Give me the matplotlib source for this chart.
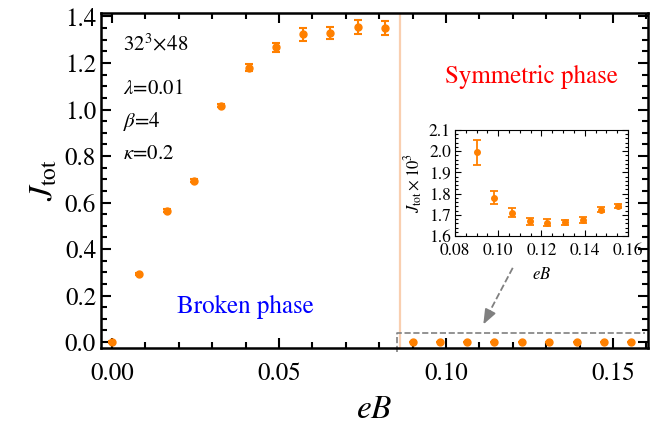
import matplotlib
matplotlib.use('Agg')
import matplotlib.pyplot as plt
from matplotlib.ticker import MultipleLocator

plt.rcParams['font.family'] = 'STIXGeneral'
plt.rcParams['mathtext.fontset'] = 'stix'

# broken phase
eB_broken = [0.0, 0.0082, 0.0164, 0.0245, 0.0327, 0.0409, 0.0491, 0.0573, 0.0654, 0.0736, 0.0818]
J_broken = [0.0, 0.293, 0.565, 0.694, 1.017, 1.180, 1.267, 1.323, 1.330, 1.353, 1.349]
J_broken_err = [0.004, 0.004, 0.005, 0.006, 0.008, 0.015, 0.02, 0.028, 0.025, 0.03, 0.03]

# symmetric phase (J_tot x 10^3)
eB_sym = [0.0900, 0.0982, 0.1064, 0.1145, 0.1227, 0.1309, 0.1391, 0.1473, 0.1554]
J_sym = [1.995, 1.781, 1.710, 1.669, 1.663, 1.664, 1.675, 1.723, 1.740]
J_sym_err = [0.06, 0.03, 0.022, 0.015, 0.015, 0.012, 0.015, 0.012, 0.01]

eB_c = 0.0862
orange = '#ff8000'

fig = plt.figure(figsize=(6.57, 4.25), dpi=100)
ax = fig.add_axes([0.1537, 0.181, 0.8326, 0.7884])

ax.errorbar(eB_broken, J_broken, yerr=J_broken_err, fmt='o', color=orange,
            ms=5, capsize=3, elinewidth=1.5, capthick=1.5)
ax.errorbar(eB_sym, [v / 1000 for v in J_sym], yerr=[e / 1000 for e in J_sym_err],
            fmt='o', color=orange, ms=5, capsize=3, elinewidth=1.5, capthick=1.5)
ax.axvline(eB_c, color='#f9cfb0', lw=1.6, zorder=0)

ax.set_xlim(-0.0033, 0.1605)
ax.set_ylim(-0.026, 1.415)
ax.xaxis.set_major_locator(MultipleLocator(0.05))
ax.xaxis.set_minor_locator(MultipleLocator(0.01))
ax.yaxis.set_major_locator(MultipleLocator(0.2))
ax.yaxis.set_minor_locator(MultipleLocator(0.05))
ax.xaxis.set_major_formatter(plt.FormatStrFormatter('%.2f'))
ax.yaxis.set_major_formatter(plt.FormatStrFormatter('%.1f'))
ax.tick_params(which='both', direction='in', top=True, right=True, labelsize=18, width=1.5)
ax.tick_params(which='major', length=7)
ax.tick_params(which='minor', length=4)
ax.tick_params(axis='x', which='major', pad=10)
for s in ax.spines.values():
    s.set_linewidth(1.8)

ax.set_xlabel('$eB$', fontsize=24, labelpad=7)
ax.set_ylabel(r'$J_{\rm tot}$', fontsize=24, labelpad=4)

ax.text(0.0033, 1.28, r'$32^3\!\times\!48$', fontsize=15, va='center')
ax.text(0.0033, 1.086, r'$\lambda$=0.01', fontsize=15, va='center')
ax.text(0.0033, 0.948, r'$\beta$=4', fontsize=15, va='center')
ax.text(0.0033, 0.806, r'$\kappa$=0.2', fontsize=15, va='center')
ax.text(0.0195, 0.151, 'Broken phase', fontsize=18, color='blue', va='center')
ax.text(0.0997, 1.142, 'Symmetric phase', fontsize=18, color='red', va='center')

# dashed box around symmetric points
ax.plot([0.0853, 0.0853, 0.1596], [-0.045, 0.039, 0.039],
        ls='--', color='gray', lw=1.2, clip_on=False)
ax.plot([0.120, 0.1125], [0.319, 0.115], ls='--', color='gray', lw=1.3)
ax.annotate('', xy=(0.1108, 0.065), xytext=(0.1128, 0.12),
            arrowprops=dict(arrowstyle='-|>,head_length=0.9,head_width=0.35',
                            color='gray', lw=1.3))

# inset
axin = fig.add_axes([0.6925, 0.4447, 0.2634, 0.2494])
axin.errorbar(eB_sym, J_sym, yerr=J_sym_err, fmt='o', color=orange,
              ms=4, capsize=3, elinewidth=1.3, capthick=1.3)
axin.set_xlim(0.08, 0.16)
axin.set_ylim(1.6, 2.1)
axin.xaxis.set_major_locator(MultipleLocator(0.02))
axin.xaxis.set_minor_locator(MultipleLocator(0.005))
axin.yaxis.set_major_locator(MultipleLocator(0.1))
axin.yaxis.set_minor_locator(MultipleLocator(0.02))
axin.xaxis.set_major_formatter(plt.FormatStrFormatter('%.2f'))
axin.yaxis.set_major_formatter(plt.FormatStrFormatter('%.1f'))
axin.tick_params(which='both', direction='in', top=True, right=True, labelsize=12.5,
                 width=0.8, pad=3)
axin.tick_params(axis='x', which='both', pad=5)
axin.tick_params(which='major', length=4)
axin.tick_params(which='minor', length=2)
for s in axin.spines.values():
    s.set_linewidth(0.8)
axin.set_xlabel('$eB$', fontsize=12, labelpad=6)
axin.set_ylabel(r'$J_{\rm tot}\times10^3$', fontsize=12, labelpad=3)

fig.savefig('out.png', dpi=100)
